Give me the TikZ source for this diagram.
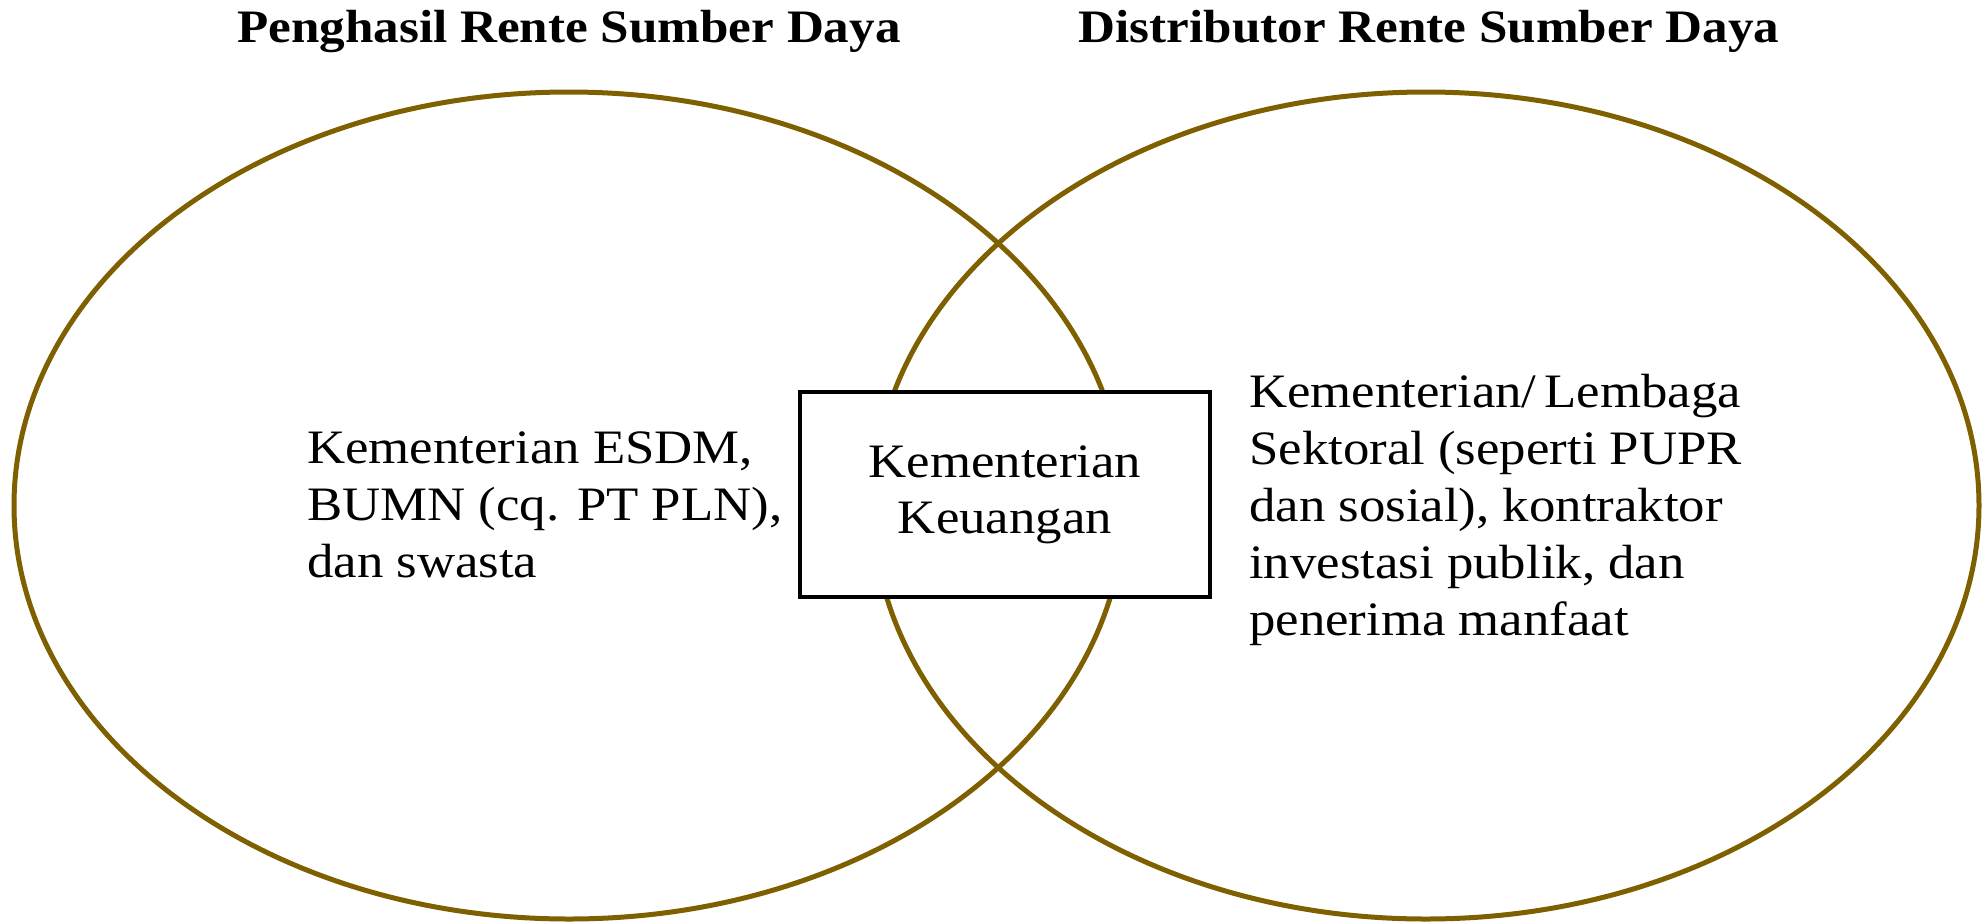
\documentclass[tikz,border=0pt]{standalone}
\usepackage{fontspec}
\setmainfont{Liberation Serif}[FakeStretch=1.1]
\usetikzlibrary{shapes.geometric}
\definecolor{venngold}{RGB}{127,96,0}
\tikzset{
  vennset/.style={ellipse, draw=venngold, line width=5pt, inner sep=0pt, minimum height=827pt},
  centerbox/.style={rectangle, draw=black, line width=3.5pt, fill=white, inner sep=0pt, minimum width=410pt, minimum height=205pt, align=center, font=\fontsize{48}{56}\selectfont},
  bodytext/.style={anchor=north west, inner sep=0pt, align=left, font=\fontsize{48}{57}\selectfont},
  titletext/.style={anchor=base, inner sep=0pt, font=\fontsize{46.5}{55}\selectfont\bfseries}
}
\begin{document}
\begin{tikzpicture}[x=1pt,y=-1pt]
\useasboundingbox (0,0) rectangle (1982,922);
\node[vennset, minimum width=1110pt] (L) at (569,505.5) {};
\node[vennset, minimum width=1106pt] (R) at (1426,505.5) {};
\node[centerbox] (K) at (1005,494.5) {Kementerian\\Keuangan};
\node[titletext] (TL) at (569,42) {Penghasil Rente Sumber Daya};
\node[titletext] (TR) at (1429,42) {Distributor Rente Sumber Daya};
\node[bodytext] (LT) at (307,432) {Kementerian ESDM,\\BUMN (cq. PT PLN),\\dan swasta};
\node[bodytext] (RT) at (1249,374) {Kementerian/\,Lembaga\\Sektoral (seperti PUPR\\dan sosial), kontraktor\\investasi publik, dan\\penerima manfaat};
\end{tikzpicture}
\end{document}
